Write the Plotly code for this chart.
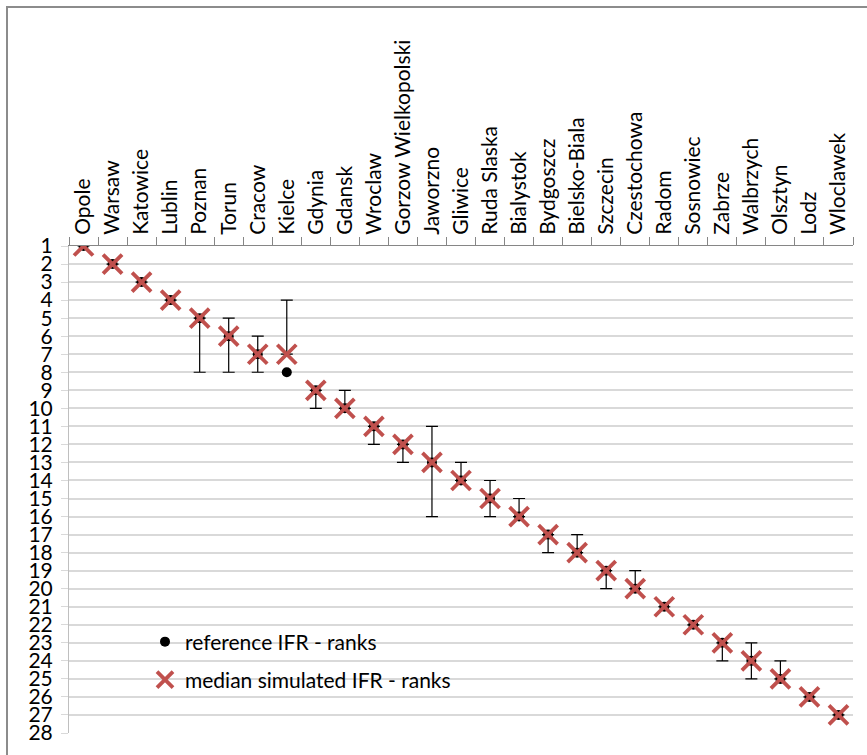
import plotly.graph_objects as go

# Cities ordered by reference IFR rank
cities = ["Opole", "Warsaw", "Katowice", "Lublin", "Poznan", "Torun", "Cracow",
          "Kielce", "Gdynia", "Gdansk", "Wroclaw", "Gorzow Wielkopolski",
          "Jaworzno", "Gliwice", "Ruda Slaska", "Bialystok", "Bydgoszcz",
          "Bielsko-Biala", "Szczecin", "Czestochowa", "Radom", "Sosnowiec",
          "Zabrze", "Walbrzych", "Olsztyn", "Lodz", "Wloclawek"]

reference_rank = [1, 2, 3, 4, 5, 6, 7, 8, 9, 10, 11, 12, 13, 14, 15, 16, 17,
                  18, 19, 20, 21, 22, 23, 24, 25, 26, 27]
median_rank = [1, 2, 3, 4, 5, 6, 7, 7, 9, 10, 11, 12, 13, 14, 15, 16, 17,
               18, 19, 20, 21, 22, 23, 24, 25, 26, 27]
# best / worst rank reached in the simulations
rank_best = [1, 2, 3, 4, 5, 5, 6, 4, 9, 9, 11, 12, 11, 13, 14, 15, 17,
             17, 19, 19, 21, 22, 23, 23, 24, 26, 27]
rank_worst = [1, 2, 3, 4, 8, 8, 8, 7, 10, 10, 12, 13, 16, 14, 16, 16, 18,
              18, 20, 20, 21, 22, 24, 25, 25, 26, 27]

y_ticks = list(range(1, 29))

err_plus = [w - m for w, m in zip(rank_worst, median_rank)]
err_minus = [m - b for m, b in zip(median_rank, rank_best)]

FONT = "Lato"
FS = 21
W, H = 867, 755
ML, MR, MT, MB = 69, 14, 246, 22
PW, PH = W - ML - MR, H - MT - MB

fig = go.Figure()

# reference ranks (drawn first so the crosses sit on top)
fig.add_trace(go.Scatter(
    x=cities, y=reference_rank, mode="markers",
    name="reference IFR - ranks",
    marker=dict(symbol="circle", size=10, color="black"),
    legend="legend",
))

# median simulated ranks with the simulated rank range as error bars
fig.add_trace(go.Scatter(
    x=cities, y=median_rank, mode="markers",
    name="median simulated IFR - ranks",
    marker=dict(symbol="x-thin", size=19, color="#C0504D",
                line=dict(color="#C0504D", width=3.8)),
    error_y=dict(type="data", symmetric=False, array=err_plus,
                 arrayminus=err_minus, color="black", thickness=1.2, width=6),
    legend="legend2",
))


def px_x(px):
    return (px - ML) / PW


def px_y(py):
    return (H - MB - py) / PH


fig.update_layout(
    width=W, height=H,
    margin=dict(l=ML, r=MR, t=MT, b=MB, pad=0),
    paper_bgcolor="white", plot_bgcolor="white",
    font=dict(family=FONT, size=FS, color="black"),
    showlegend=True,
    legend=dict(x=px_x(145), y=px_y(642), xanchor="left", yanchor="middle",
                bgcolor="rgba(0,0,0,0)", font=dict(size=FS, family=FONT)),
    legend2=dict(x=px_x(145), y=px_y(680), xanchor="left", yanchor="middle",
                 bgcolor="rgba(0,0,0,0)", font=dict(size=FS, family=FONT)),
    xaxis=dict(
        type="category", side="top", range=[-0.5, len(cities) - 0.5],
        tickangle=-90, tickson="boundaries", ticks="outside", ticklen=8,
        tickcolor="#868686", showline=True, linecolor="#868686",
        linewidth=1, showgrid=False, zeroline=False, ticklabelstandoff=6,
        tickfont=dict(family=FONT, size=FS, color="black"),
    ),
    yaxis=dict(
        range=[28, 1], tickmode="array", tickvals=y_ticks,
        ticktext=[str(v) for v in y_ticks], ticks="outside", ticklen=7,
        tickcolor="#D9D9D9", showline=True, linecolor="#BFBFBF",
        showgrid=True, gridcolor="#D9D9D9", gridwidth=1.5, zeroline=False,
        ticklabelstandoff=4,
        tickfont=dict(family=FONT, size=FS, color="black"),
    ),
    shapes=[dict(type="rect", xref="paper", yref="paper",
                 x0=px_x(7), x1=px_x(872), y0=px_y(762), y1=px_y(7),
                 line=dict(color="#8C8C8C", width=2), layer="above")],
)

fig.write_html("out.html")
